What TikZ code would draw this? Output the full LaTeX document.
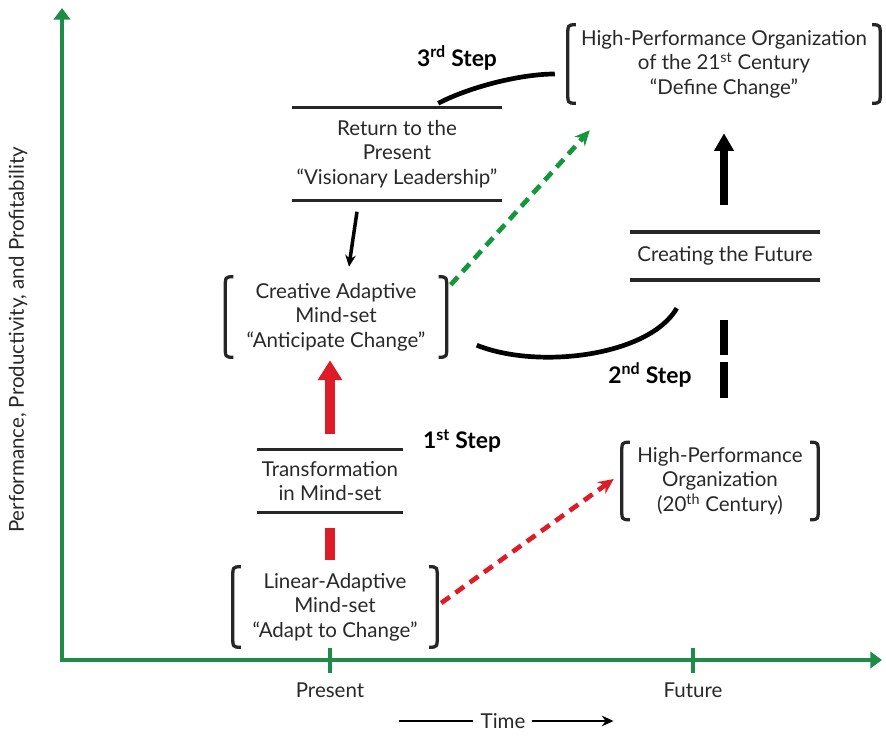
\documentclass[tikz,border=0pt]{standalone}
\usepackage{fontspec}
\setmainfont{Lato}
\usepackage{tikz}
\usetikzlibrary{positioning}
\usetikzlibrary{calc}
\usetikzlibrary{arrows.meta}
\usepackage{xcolor}
\definecolor{axisgreen}{RGB}{30,140,72}
\definecolor{dashgreen}{RGB}{20,150,60}
\definecolor{stepred}{RGB}{222,28,40}
\definecolor{txtgray}{RGB}{40,40,40}

\begin{document}
\begin{tikzpicture}[x=0.03cm,y=-0.03cm,
    txt/.style={align=center,text=txtgray,font=\fontsize{17.5}{21}\selectfont,inner sep=0pt},
    box/.style 2 args={txt,minimum width=#1,minimum height=#2},
    steplbl/.style={font=\bfseries\fontsize{19.5}{22}\selectfont,inner sep=0pt},
    axis/.style={axisgreen,line width=3pt},
    bracket/.style={black!85,line width=2.8pt},
    rule/.style={black!85,line width=3pt},
    curve/.style={black,line width=4pt},
    redbar/.style={stepred,line width=8.5pt},
    blackbar/.style={black,line width=7.5pt},
    thinarr/.style={black,line width=3pt,-{Stealth[length=10pt,width=9pt]}},
    dasharr/.style={line width=4pt,dash pattern=on 9pt off 6pt,-{Stealth[length=13pt,width=12pt]}}]
    \useasboundingbox (0,0) rectangle (886,736);

    \coordinate (O) at (62,660);
    \coordinate (ytop) at (62,8);
    \coordinate (xend) at (882,660);
    \draw[axis,{Triangle[length=10pt,width=14pt]}-{Triangle[length=10pt,width=14pt]}] (ytop) -- (O) -- (xend);
    \foreach \x/\lab/\nm in {330/Present/pres,693/Future/futr} {
      \draw[axis] (\x,648) -- (\x,673);
      \node[txt] (\nm) at (\x,690) {\lab};
    }
    \node[txt,rotate=90] (ylab) at (18,340) {Performance, Productivity, and Profitability};
    \node[txt] (time) at (503,721) {Time};
    \draw[black,line width=2.2pt] ($(time.west)+(-81,0)$) -- ($(time.west)+(-7,0)$);
    \draw[black,line width=2.2pt,-{Stealth[length=10pt,width=9pt]}] ($(time.east)+(6,0)$) -- ($(time.east)+(88,0)$);

    \node[box={9.36cm}{2.34cm}] (hpo21) at (724,64) {High-Performance Organization\\of the 21\textsuperscript{st} Century\\“Define Change”};
    \node[box={6.3cm}{2.79cm}] (ret) at (397,154) {Return to the\\Present\\“Visionary Leadership”};
    \node[box={6.63cm}{2.4cm}] (cre) at (336,317) {Creative Adaptive\\Mind-set\\“Anticipate Change”};
    \node[box={5.7cm}{1.44cm}] (fut) at (725,256) {Creating the Future};
    \node[box={4.35cm}{1.89cm}] (trans) at (330,481) {Transformation\\in Mind-set};
    \node[box={6.12cm}{2.4cm}] (lin) at (335,607) {Linear-Adaptive\\Mind-set\\“Adapt to Change”};
    \node[box={5.88cm}{2.31cm}] (hpo20) at (720,481) {High-Performance\\Organization\\(20\textsuperscript{th} Century)};

    \node[steplbl] (s3) at (457,58) {3\textsuperscript{rd} Step};
    \node[steplbl] (s2) at (650,375) {2\textsuperscript{nd} Step};
    \node[steplbl] (s1) at (462,441) {1\textsuperscript{st} Step};

    \foreach \b in {hpo21,cre,lin,hpo20} {
      \draw[bracket] ([xshift=7pt]\b.north west) .. controls (\b.north west) .. ([yshift=-10pt]\b.north west)
        -- ([yshift=10pt]\b.south west) .. controls (\b.south west) .. ([xshift=7pt]\b.south west);
      \draw[bracket] ([xshift=-7pt]\b.north east) .. controls (\b.north east) .. ([yshift=-10pt]\b.north east)
        -- ([yshift=10pt]\b.south east) .. controls (\b.south east) .. ([xshift=-7pt]\b.south east);
    }
    \foreach \r in {ret,fut,trans} {
      \draw[rule] (\r.north west) -- (\r.north east) (\r.south west) -- (\r.south east);
    }

    \draw[redbar] ($(trans.south |- lin.north)+(0,-7)$) -- ($(trans.south)+(0,15)$);
    \draw[redbar,-{Triangle[length=17pt,width=20pt]}] ($(trans.north)+(0,-15)$) -- ($(trans.north |- cre.south)+(0,3)$);
    \draw[thinarr] ($(ret.south)+(-40,11)$) .. controls ($(ret.south)+(-44,35)$) .. ($(cre.north)+(13,-10)$);
    \draw[curve] ($(ret.north east)+(-64,-4)$) .. controls ($(ret.north east)+(-31,-21)$) and ($(hpo21.west)+(-46,10)$) .. ($(hpo21.west)+(-13,10)$);
    \draw[curve] ($(cre.south east)+(30,-12)$) .. controls ($(cre.south east)+(93,13)$) and ($(fut.south west)+(20,75)$) .. ($(fut.south west)+(47,28)$);
    \draw[blackbar,-{Triangle[length=15pt,width=16pt]}] ($(fut.north)+(-1,-27)$) -- ($(fut.north |- hpo21.south)+(-1,30)$);
    \draw[blackbar,dash pattern=on 30pt off 6pt] ($(fut.south)+(-1,40)$) -- ($(fut.south)+(-1,118)$);
    \draw[dasharr,dashgreen] ($(cre.north east)+(4,8)$) -- ($(hpo21.south west)+(22,27)$);
    \draw[dasharr,stepred] ($(lin.east)+(4,-4)$) -- ($(hpo20.west)+(-8,-2)$);
\end{tikzpicture}
\end{document}
